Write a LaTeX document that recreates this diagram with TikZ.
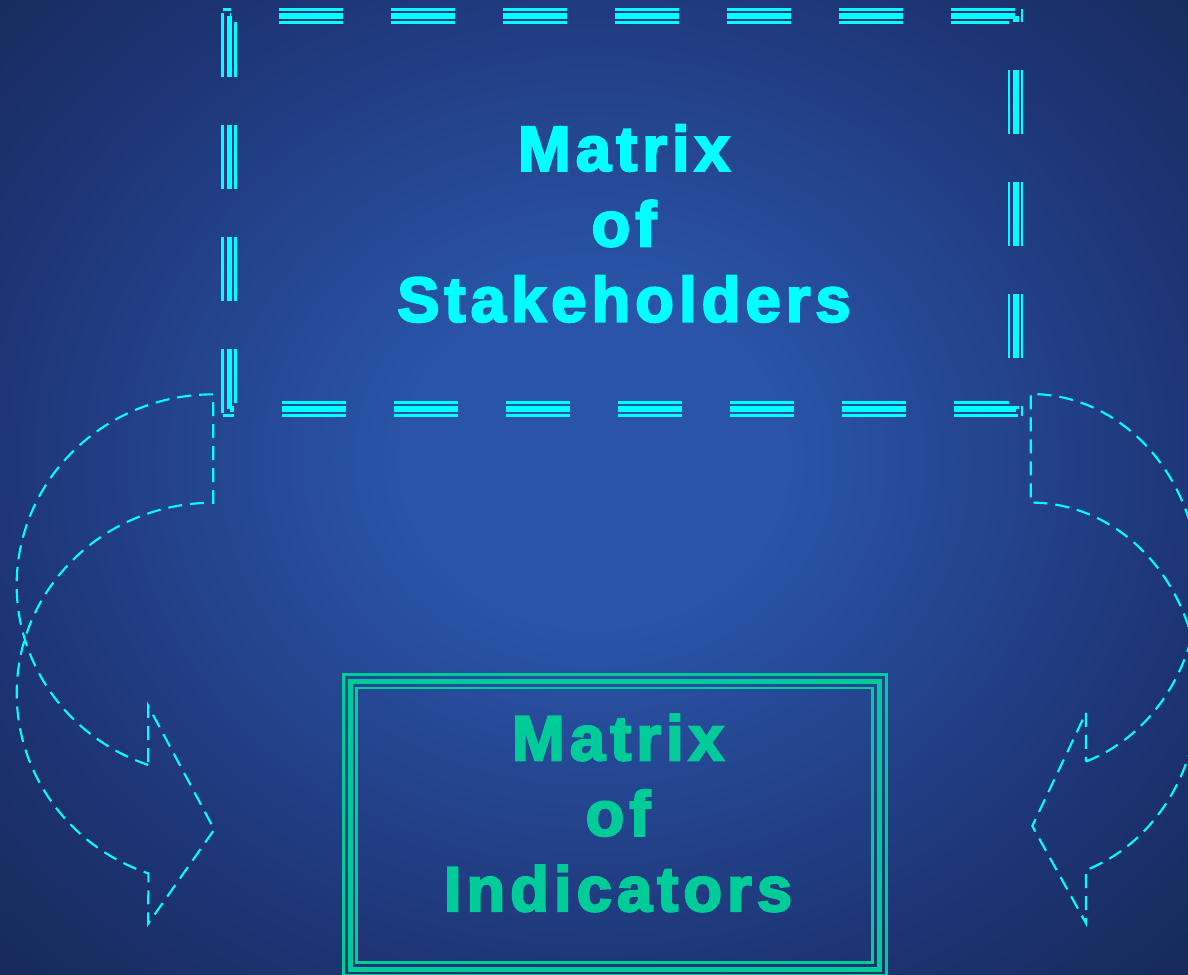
\documentclass[tikz,border=0pt]{standalone}
\usepackage{fontspec}
\newfontfamily\slidefont{Liberation Sans Bold}[LetterSpace=8, FakeBold=3.5]
\usepackage{tikz}

\definecolor{stakecyan}{HTML}{00FFFF}
\definecolor{indicgreen}{HTML}{00CC99}
\definecolor{bgmid}{HTML}{2A54A8}
\definecolor{bgedge}{HTML}{1E3677}
\definecolor{bgcorner}{HTML}{172958}
\pgfdeclareradialshading{bgglow}{\pgfpoint{0bp}{0bp}}{color(0bp)=(bgmid); color(8bp)=(bgmid); color(25bp)=(bgedge); color(36bp)=(bgcorner); color(50bp)=(bgcorner)}

\tikzset{
  stakethin/.style={draw=stakecyan, line width=2pt, dash pattern=on 48pt off 36pt},
  stakethick/.style={draw=stakecyan, line width=4pt, dash pattern=on 48pt off 36pt},
  indicthin/.style={draw=indicgreen, line width=2pt},
  indicthick/.style={draw=indicgreen, line width=3.75pt},
  loopline/.style={draw=stakecyan, line width=1.6pt, dash pattern=on 10.5pt off 6pt},
  boxlabel/.style={font=\slidefont\fontsize{47.5}{56.6}\selectfont, align=center, inner sep=0pt}
}

\begin{document}
\begin{tikzpicture}[x=0.75pt,y=0.75pt,yscale=-1,xscale=1]
\useasboundingbox (0,0) rectangle (1188,974);
%Background
\shade[shading=bgglow] (0,-54) rectangle (1188,974);

%Curve Lines: left loop arrow
\draw[loopline] (148.3,765) arc[start angle=109.3, end angle=270, x radius=196.6, y radius=190.7] -- (213.3,502.7) arc[start angle=270, end angle=109.3, x radius=196.6, y radius=190.7] -- (148.3,923.5) -- (214.3,829.5) -- (148.3,706) -- cycle ;
%Curve Lines: right loop arrow
\draw[loopline] (1086,761.5) arc[start angle=70.8, end angle=-90, x radius=168, y radius=189] -- (1030.7,502.6) arc[start angle=-90, end angle=70.8, x radius=168, y radius=189] -- (1086,923.3) -- (1032.3,826) -- (1086,712.7) -- cycle ;

%Shape: Rectangle, stakeholders, outer
\draw[stakethin, dash phase=41.625pt] (222.5,9.5) -- (1022,9.5) ;
\draw[stakethin, dash phase=38.625pt] (1022,9.5) -- (1022,415.5) ;
\draw[stakethin, dash phase=39.375pt] (222.5,415.5) -- (1022,415.5) ;
\draw[stakethin, dash phase=81.375pt] (222.5,9.5) -- (222.5,415.5) ;
%Shape: Rectangle, stakeholders, middle
\draw[stakethick, dash phase=46.875pt] (229.5,16) -- (1016,16) ;
\draw[stakethick, dash phase=43.5pt] (1016,16) -- (1016,409) ;
\draw[stakethick, dash phase=44.625pt] (229.5,409) -- (1016,409) ;
\draw[stakethick, dash phase=2.25pt] (229.5,16) -- (229.5,409) ;
%Shape: Rectangle, stakeholders, inner
\draw[stakethin, dash phase=51.375pt] (235.5,22.5) -- (1009,22.5) ;
\draw[stakethin, dash phase=48.375pt] (1009,22.5) -- (1009,402.5) ;
\draw[stakethin, dash phase=49.125pt] (235.5,402.5) -- (1009,402.5) ;
\draw[stakethin, dash phase=7.125pt] (235.5,22.5) -- (235.5,402.5) ;

%Shape: Rectangle, indicators
\draw[indicthin] (343.5,674.7) rectangle (886.3,975.7) ;
\draw[indicthick] (350,681.3) rectangle (879.7,969) ;
\draw[indicthin] (356.8,688) rectangle (872.8,962.2) ;

% Text Nodes
\node[boxlabel, text=stakecyan] (matStake) at (624,223.5) {Matrix\\of\\Stakeholders};
\node[boxlabel, text=indicgreen] (matIndic) at (618,813) {Matrix\\of\\Indicators};
\end{tikzpicture}
\end{document}
